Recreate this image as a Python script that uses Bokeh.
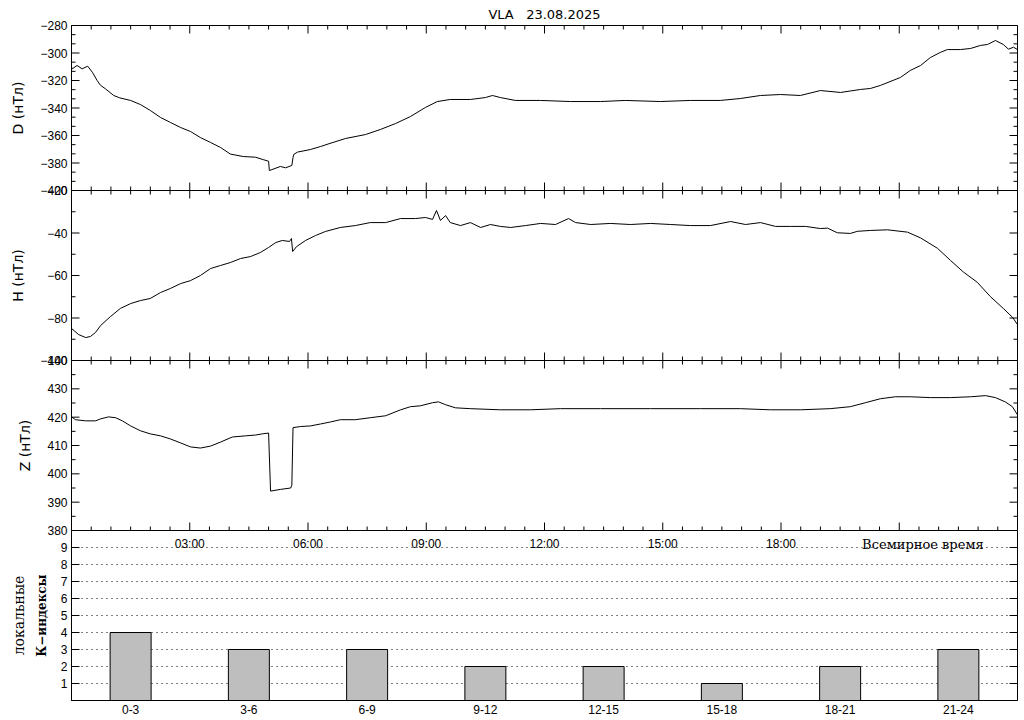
import math
from bokeh.plotting import figure
from bokeh.layouts import column
from bokeh.models import LinearAxis, FixedTicker, Range1d, Label
from bokeh.core.properties import value
from bokeh.embed import file_html
from bokeh.resources import INLINE

TITLE = "VLA\u00a0\u00a0\u00a023.08.2025"

# ---- D component (nT) ----
d_hours = [0.00, 0.02, 0.14, 0.27, 0.41, 0.53, 0.65, 0.74, 0.86, 1.07, 1.22, 1.50, 1.75, 2.00,
           2.26, 2.51, 2.77, 3.02, 3.27, 3.53, 3.78, 4.03, 4.36, 4.67, 4.88, 5.00, 5.02, 5.30,
           5.43, 5.59, 5.62, 5.64, 5.73, 6.06, 6.32, 6.53, 6.95, 7.46, 7.84, 8.22, 8.60, 8.98,
           9.28, 9.61, 10.12, 10.50, 10.68, 10.88, 11.26, 11.90, 12.66, 13.42, 14.05, 14.94,
           15.70, 16.46, 16.97, 17.48, 17.99, 18.49, 19.00, 19.51, 20.02, 20.27, 20.52, 21.03,
           21.28, 21.54, 21.79, 22.04, 22.22, 22.55, 22.81, 23.06, 23.24, 23.44, 23.64, 23.77,
           23.90, 24.00]
d_vals = [-310.2, -311.5, -309.1, -311.5, -309.6, -314.0, -320.0, -323.6, -326.0, -330.9,
          -332.6, -334.5, -337.5, -341.8, -346.9, -350.5, -354.2, -357.1, -361.5, -365.1,
          -368.7, -373.5, -375.3, -375.8, -377.7, -378.7, -385.5, -382.5, -383.5, -381.8,
          -376.0, -373.8, -372.1, -370.2, -368.0, -366.0, -362.2, -359.3, -355.6, -351.3,
          -346.2, -339.6, -335.3, -333.8, -333.8, -332.4, -330.9, -332.4, -334.5, -334.5,
          -335.3, -335.3, -334.5, -335.3, -334.5, -334.5, -333.1, -330.9, -330.2, -330.9,
          -327.3, -328.7, -326.5, -325.8, -323.6, -317.8, -312.7, -309.1, -303.3, -299.6,
          -297.5, -297.5, -296.7, -294.5, -293.8, -290.9, -293.8, -297.2, -295.8, -297.5]

# ---- H component (nT) ----
h_hours = [0.00, 0.18, 0.36, 0.48, 0.61, 0.74, 0.99, 1.24, 1.50, 1.75, 2.00, 2.26, 2.51, 2.77,
           3.02, 3.27, 3.53, 3.78, 4.03, 4.29, 4.54, 4.79, 5.00, 5.18, 5.35, 5.53, 5.58, 5.61,
           5.71, 5.94, 6.19, 6.44, 6.82, 7.20, 7.58, 7.97, 8.35, 8.73, 8.98, 9.16, 9.26, 9.36,
           9.49, 9.61, 9.87, 10.12, 10.38, 10.63, 10.88, 11.14, 11.52, 11.90, 12.28, 12.61,
           12.79, 13.17, 13.67, 14.18, 14.69, 15.20, 15.70, 16.21, 16.72, 17.10, 17.48, 17.86,
           18.24, 18.62, 19.00, 19.18, 19.43, 19.76, 19.94, 20.27, 20.70, 21.21, 21.54, 21.97,
           22.30, 22.63, 22.98, 23.31, 23.64, 23.87, 24.00]
h_vals = [-84.9, -87.8, -89.2, -88.7, -86.8, -83.5, -79.3, -75.5, -73.2, -71.8, -70.8, -68.0,
          -66.1, -63.8, -62.4, -60.0, -56.7, -55.3, -53.9, -52.0, -51.1, -49.2, -46.8, -44.5,
          -43.5, -44.0, -42.6, -48.7, -46.4, -43.5, -41.2, -39.3, -37.4, -36.5, -35.1, -35.1,
          -33.2, -33.2, -32.7, -33.6, -29.4, -34.1, -31.8, -35.1, -36.5, -35.1, -37.4, -36.0,
          -36.9, -37.4, -36.5, -35.5, -36.0, -33.2, -35.1, -36.0, -35.5, -36.0, -35.5, -36.0,
          -36.5, -36.5, -34.6, -36.0, -35.1, -36.9, -36.9, -36.9, -37.9, -37.7, -39.9, -40.2,
          -39.2, -38.8, -38.5, -39.6, -42.3, -47.2, -52.9, -58.4, -63.2, -69.9, -75.5, -79.6,
          -83.1]

# ---- Z component (nT) ----
z_hours = [0.00, 0.10, 0.36, 0.61, 0.74, 0.94, 1.12, 1.29, 1.50, 1.75, 2.00, 2.26, 2.51, 2.77,
           3.02, 3.27, 3.53, 3.78, 4.08, 4.41, 4.67, 4.84, 5.00, 5.05, 5.30, 5.56, 5.59, 5.62,
           5.81, 6.06, 6.32, 6.57, 6.82, 7.20, 7.58, 7.97, 8.35, 8.60, 8.85, 9.16, 9.31, 9.49,
           9.74, 10.12, 10.88, 11.64, 12.40, 13.42, 14.69, 15.96, 16.97, 17.73, 18.49, 19.25,
           19.76, 20.14, 20.52, 20.90, 21.28, 21.79, 22.30, 22.81, 23.19, 23.44, 23.69, 23.87,
           24.00]
z_vals = [420.1, 419.1, 418.7, 418.7, 419.4, 420.1, 419.8, 418.7, 416.9, 415.2, 414.1, 413.4,
          412.3, 410.9, 409.5, 409.1, 409.8, 411.2, 413.0, 413.4, 413.7, 414.1, 414.4, 393.9,
          394.5, 395.0, 396.0, 416.3, 416.7, 416.9, 417.6, 418.3, 419.1, 419.1, 419.8, 420.5,
          422.6, 423.7, 424.0, 425.1, 425.4, 424.4, 423.3, 423.0, 422.6, 422.6, 423.0, 423.0,
          423.0, 423.0, 423.0, 422.6, 422.6, 423.0, 423.7, 425.1, 426.5, 427.2, 427.2, 426.9,
          426.9, 427.2, 427.6, 426.9, 425.4, 423.7, 420.8]

# ---- local K indices ----
k_intervals = ["0-3", "3-6", "6-9", "9-12", "12-15", "15-18", "18-21", "21-24"]
k_vals = [4, 3, 3, 2, 2, 1, 2, 3]
k_centers = [3 * i + 1.5 for i in range(len(k_intervals))]

time_tick_hours = [3, 6, 9, 12, 15, 18]
time_tick_labels = ["03:00", "06:00", "09:00", "12:00", "15:00", "18:00"]
time_axis_label = "Всемирное время"

FONT = "Liberation Sans"
LABEL_FONT = "DejaVu Sans"
SERIF = "DejaVu Serif"
W = 1024
LB, RB = 71, 7
OVER = -16

major_t = list(range(0, 25, 3))
minor_t = [i * 0.5 for i in range(49) if i % 6 != 0]


def edge_ticks(p, xs=None, ys=None, x0=0, x1=24, y0=0, y1=1, length=8):
    # tick marks: dash markers centred on the frame edge; the frame clips the outer half
    if xs:
        n = len(xs)
        p.scatter(x=xs + xs, y=[y0] * n + [y1] * n, marker="dash", size=2 * length,
                  angle=math.pi / 2, line_color="black", line_width=1)
    if ys:
        n = len(ys)
        p.scatter(x=[x0] * n + [x1] * n, y=ys + ys, marker="dash", size=2 * length,
                  angle=0, line_color="black", line_width=1)


def label_axis(ticks, label, size="14px"):
    ax = LinearAxis(ticker=FixedTicker(ticks=ticks, minor_ticks=[]), axis_label=label,
                    major_label_overrides={t: ("\u2212" + str(abs(t)) if t < 0 else str(t))
                                           for t in ticks})
    ax.major_tick_in = 0
    ax.major_tick_out = 0
    ax.axis_line_color = "black"
    ax.major_label_text_font = FONT
    ax.major_label_text_font_size = "12px"
    ax.major_label_text_color = "black"
    ax.major_label_standoff = 4
    ax.axis_label_text_font = LABEL_FONT
    ax.axis_label_text_font_size = size
    ax.axis_label_text_font_style = "normal"
    ax.axis_label_text_color = "black"
    return ax


def time_panel(hours, vals, ymin, ymax, ystep, nminor, ylabel, height, top, first=False):
    p = figure(width=W, height=height, x_range=Range1d(0, 24), y_range=Range1d(ymin, ymax),
               output_backend="svg", toolbar_location=None,
               x_axis_location=None, y_axis_location=None,
               min_border_left=LB, min_border_right=RB, min_border_top=top, min_border_bottom=8)
    p.border_fill_alpha = 0
    p.background_fill_color = "white"
    p.outline_line_color = "black"
    p.grid.visible = False
    if not first:
        p.margin = (OVER, 0, 0, 0)
    ymaj = list(range(ymin, ymax + 1, ystep))
    step = ystep / nminor
    ymin_t = [ymin + i * step for i in range(int((ymax - ymin) / step) + 1) if i % nminor != 0]
    left = label_axis(ymaj, ylabel)
    left.axis_label_standoff = 11
    p.add_layout(left, "left")
    edge_ticks(p, xs=major_t, y0=ymin, y1=ymax, length=8)
    edge_ticks(p, xs=minor_t, y0=ymin, y1=ymax, length=4)
    edge_ticks(p, ys=ymaj, length=8)
    edge_ticks(p, ys=ymin_t, length=4)
    p.line(hours, vals, line_color="black", line_width=1)
    return p


p1 = time_panel(d_hours, d_vals, -400, -280, 20, 3, "D (нТл)", 198, 25, first=True)
p1.title.text = TITLE
p1.title.align = "center"
p1.title.text_font = "DejaVu Sans"
p1.title.text_font_size = "13px"
p1.title.text_font_style = "normal"
p1.title.text_color = "black"
p1.title.standoff = 7
p2 = time_panel(h_hours, h_vals, -100, -20, 20, 2, "H (нТл)", 186, 8)
p3 = time_panel(z_hours, z_vals, 380, 440, 10, 2, "Z (нТл)", 186, 8)

# ---- K-index panel ----
p4 = figure(width=W, height=197, x_range=Range1d(0, 24), y_range=Range1d(0, 10),
            output_backend="svg", toolbar_location=None,
            x_axis_location=None, y_axis_location=None,
            min_border_left=LB, min_border_right=RB, min_border_top=8, min_border_bottom=19)
p4.margin = (OVER, 0, 0, 0)
p4.border_fill_alpha = 0
p4.background_fill_color = "white"
p4.outline_line_color = "black"
k_ticks = list(range(1, 10))
kl = label_axis(k_ticks, "К−индексы", size="12px")
kl.axis_label_text_font = SERIF
kl.axis_label_text_font_style = "bold"
kl.axis_label_standoff = 9
p4.add_layout(kl, "left")
kl2 = LinearAxis(ticker=FixedTicker(ticks=[]), axis_label="локальные")
kl2.axis_line_color = None
kl2.major_tick_line_color = None
kl2.minor_tick_line_color = None
kl2.major_label_standoff = 0
kl2.axis_label_text_font = SERIF
kl2.axis_label_text_font_size = "14px"
kl2.axis_label_text_font_style = "normal"
kl2.axis_label_text_color = "black"
kl2.axis_label_standoff = 5
p4.add_layout(kl2, "left")
p4.xgrid.visible = False
p4.ygrid.ticker = FixedTicker(ticks=k_ticks)
p4.ygrid.grid_line_color = "black"
p4.ygrid.grid_line_dash = "1 4"
p4.ygrid.grid_line_width = 1
edge_ticks(p4, ys=k_ticks, length=8)
kb = LinearAxis(ticker=FixedTicker(ticks=k_centers, minor_ticks=[]),
                major_label_overrides={c: s for c, s in zip(k_centers, k_intervals)})
kb.major_tick_in = 0
kb.major_tick_out = 0
kb.axis_line_color = "black"
kb.major_label_text_font = FONT
kb.major_label_text_font_size = "12px"
kb.major_label_text_color = "black"
kb.major_label_standoff = 4
p4.add_layout(kb, "below")
p4.vbar(x=k_centers, top=k_vals, bottom=0, width=1.04, fill_color="#bebebe",
        line_color="black", line_width=1)
p4.text(x=time_tick_hours, y=[9.2] * len(time_tick_hours), text=time_tick_labels,
        text_font=value(FONT), text_font_size="12px", text_align="center",
        text_baseline="middle", text_color="black")
p4.add_layout(Label(x=21.6, y=9.2, text=time_axis_label, text_font=SERIF,
                    text_font_size="13px", text_align="center", text_baseline="middle",
                    text_color="black"))

layout = column(p1, p2, p3, p4, spacing=0)
open("out.html", "w").write(file_html(layout, INLINE))
